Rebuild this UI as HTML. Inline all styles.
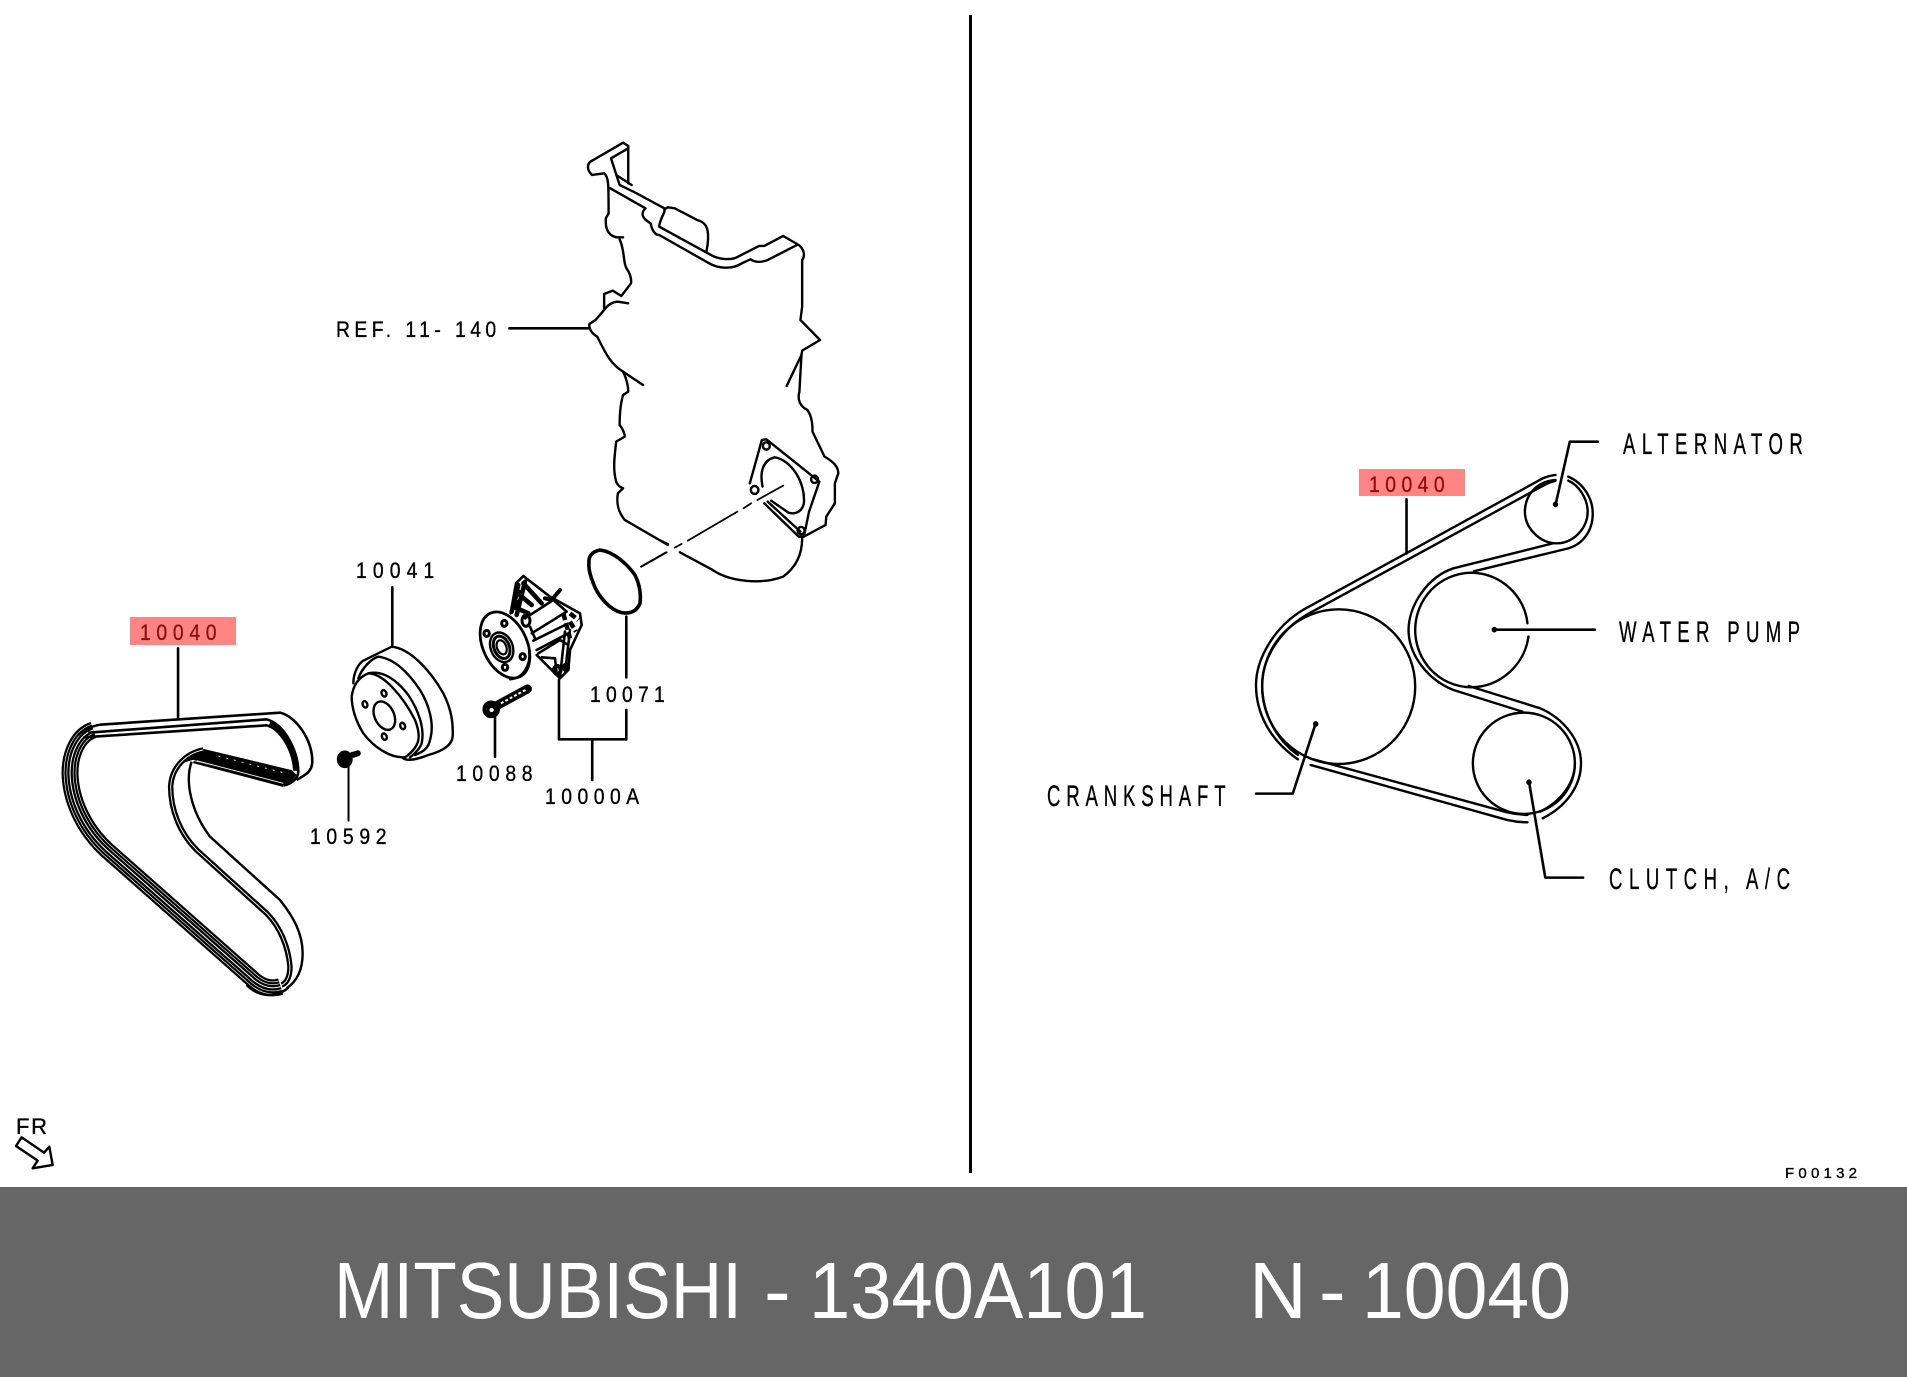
<!DOCTYPE html>
<html><head><meta charset="utf-8"><style>
html,body{margin:0;padding:0;background:#fff}
svg{display:block}
path,ellipse,line,polygon{vector-effect:non-scaling-stroke}
.l{fill:none;stroke:#000;stroke-width:2.4;stroke-linejoin:round;stroke-linecap:round}
.b path{stroke-linecap:butt}
.t{font-family:"Liberation Sans",sans-serif;font-size:22px;fill:#000;stroke:#000;stroke-width:.35}
.c{font-size:30px}
.f{font-family:"Liberation Sans",sans-serif;font-size:80px;fill:#fff}
</style></head><body>
<svg width="1907" height="1377" viewBox="0 0 1907 1377" xmlns="http://www.w3.org/2000/svg">
<rect width="1907" height="1377" fill="#fff"/>
<rect x="969" y="15" width="3" height="1158" fill="#000"/>

<!-- Timing cover -->
<g transform="translate(320,120) scale(.3444,.3333)" class="l">
<path d="M895,78 L880,68 L785,125 C775,135 775,150 790,165 L825,160 C838,170 838,190 838,280 L830,295 C828,325 835,345 860,352 L880,352"/>
<path d="M870,358 C885,390 880,430 890,445 C900,460 905,475 903,490 L875,528 L850,512 L825,522 L825,570 L800,600 L782,612 C780,630 795,645 805,650 C825,690 840,730 880,755 L938,795"/>
<path d="M825,570 C835,555 850,545 865,545 L895,550"/>
<path d="M880,755 C890,775 895,800 895,815 L880,825 C870,860 870,900 870,915 C885,935 885,950 885,950 L860,965 C855,1010 850,1050 860,1085 C865,1100 880,1105 880,1105 L865,1120 C860,1150 865,1175 885,1200 L1010,1275"/>
<path d="M1045,1297 L1140,1350 C1190,1385 1280,1395 1345,1370 C1385,1340 1400,1300 1400,1255"/>
<path d="M895,85 L845,115 L870,195 L910,215 M895,78 V190 M860,165 L905,195"/>
<path d="M843,205 L945,265 C930,280 935,295 960,310 C965,335 975,345 985,345 L1130,430 C1155,445 1195,450 1225,430 L1250,418 C1265,428 1280,428 1300,420 L1385,375"/>
<path d="M910,215 L1000,265 C1005,275 985,300 985,320 L1135,405 C1160,420 1195,420 1210,412 L1275,378 L1290,378 L1345,348 L1390,375 C1408,390 1408,410 1400,420 L1400,560 L1395,600 L1452,660 L1400,692 L1398,705 L1355,798"/>
<path d="M1398,705 L1392,815 C1385,840 1395,860 1415,870 C1430,890 1430,920 1430,935 L1465,1010 C1490,1025 1505,1040 1505,1060 L1495,1090 L1495,1150 L1470,1190 L1468,1215 L1405,1250"/>
<path d="M1122,395 C1125,380 1130,355 1125,330 C1120,310 1110,305 1095,300 L1030,265 L1010,262 L1000,268"/>
<path d="M1283,960 L1296,958 L1450,1085 L1420,1175 L1405,1250 L1390,1250 L1290,1150 M1283,960 L1248,1090 M1300,1145 L1395,1235"/>
<path d="M1285,1100 C1275,1050 1290,1020 1320,1012 C1370,1020 1410,1090 1405,1150 C1400,1175 1380,1185 1360,1178 L1310,1142"/>
<ellipse cx="1296" cy="978" rx="10" ry="11"/><ellipse cx="1436" cy="1078" rx="10" ry="11"/><ellipse cx="1262" cy="1110" rx="11" ry="12"/><ellipse cx="1397" cy="1232" rx="10" ry="11"/>
<path style="stroke-width:1.8" d="M932,1340 L1005,1297 M1030,1283 L1050,1272 M1068,1262 L1212,1175 M1230,1165 L1252,1150 M1270,1140 L1345,1097"/>
<path d="M550,625 H780" style="stroke-width:2.6"/>
</g>

<!-- Multi-rib belt -->
<g transform="translate(50,700) scale(.3333)" class="l b">
<path id="r" d="M130,90 C85,105 60,160 60,220 C62,300 100,385 170,450 L600,830 C630,860 660,870 692,860" style="stroke-width:17"/>
<path d="M130,90 C85,105 60,160 60,220 C62,300 100,385 170,450 L600,830 C630,860 660,870 692,860" style="stroke:#fff;stroke-width:12.5"/>
<path d="M130,90 C85,105 60,160 60,220 C62,300 100,385 170,450 L600,830 C630,860 660,870 692,860" style="stroke-width:11.2"/>
<path d="M130,90 C85,105 60,160 60,220 C62,300 100,385 170,450 L600,830 C630,860 660,870 692,860" style="stroke:#fff;stroke-width:6.8"/>
<path d="M130,90 C85,105 60,160 60,220 C62,300 100,385 170,450 L600,830 C630,860 660,870 692,860" style="stroke-width:5.6"/>
<path d="M130,90 C85,105 60,160 60,220 C62,300 100,385 170,450 L600,830 C630,860 660,870 692,860" style="stroke:#fff;stroke-width:1"/>
<path d="M150,74 L690,38 C740,50 787,120 787,185 C787,215 765,225 740,240" style="stroke-width:2.6"/>
<path d="M115,98 L650,58 C700,70 745,150 745,215 C745,232 730,250 700,257" style="stroke-width:2.6"/>
<path d="M100,112 L650,76 C690,85 730,150 733,212" style="stroke-width:2.6"/>
<path d="M660,68 C700,85 735,150 740,212" style="stroke-width:4.5"/>
<path d="M150,74 C120,80 100,90 85,105" />
<polygon points="460,148 725,212 738,225 722,246 695,256 450,185 430,178 395,188 420,165" fill="#000" stroke="#000" stroke-width="1"/>
<path d="M505,168 L715,222" style="stroke:#fff;stroke-width:.8;stroke-dasharray:2 6"/>
<path d="M440,182 L700,250" style="stroke:#fff;stroke-width:.9"/>
<path d="M430,186 L700,257" style="stroke-width:2.4"/>
<path d="M460,150 C410,160 365,200 362,260 C362,330 390,400 440,450 L650,640 C690,680 715,740 720,800 C720,830 710,850 695,855" style="stroke-width:5.5"/>
<path d="M460,150 C410,160 365,200 362,260 C362,330 390,400 440,450 L650,640 C690,680 715,740 720,800 C720,830 710,850 695,855" style="stroke:#fff;stroke-width:.9"/>
<path d="M425,185 C405,240 420,330 480,410 L690,600 C730,650 758,700 758,760 C758,810 740,845 710,865"/>
<path d="M590,855 C615,880 640,885 665,885 C690,880 710,870 715,862" style="stroke-width:2.6"/>
</g>

<!-- Pulley -->
<g transform="translate(340,640) scale(.3333)" class="l">
<path d="M40,130 C40,100 55,70 70,62 L155,20 C210,25 270,90 310,160 C335,210 340,250 338,290 C335,320 300,335 265,345 C240,355 205,365 190,355"/>
<path d="M55,115 C65,85 95,55 115,50 C160,55 200,90 240,150 C265,190 285,250 270,300 C265,325 250,335 225,345"/>
<path d="M35,170 C40,130 60,110 85,100 C130,100 190,170 225,240 C245,290 240,320 195,352 C150,355 100,320 70,280 C45,240 35,200 35,170Z"/>
<path d="M85,100 C130,90 170,120 205,165 C235,210 255,265 245,310 C240,325 225,340 210,352"/>
<ellipse cx="133" cy="227" rx="29" ry="45" transform="rotate(-25 133 227)"/>
<ellipse cx="75" cy="193" rx="7" ry="10" transform="rotate(-20 75 193)"/>
<ellipse cx="132" cy="160" rx="7" ry="10" transform="rotate(-20 132 160)"/>
<ellipse cx="188" cy="258" rx="7" ry="10" transform="rotate(-20 188 258)"/>
<ellipse cx="133" cy="290" rx="7" ry="10" transform="rotate(-20 133 290)"/>
</g>

<!-- Bolts and leaders (left) -->
<g transform="translate(40,540) scale(.4209,.3333)" class="l">
<path d="M328,325 V535 M837,142 V320 M1393,230 V412 M1393,510 V598 H1233 V420 M1312,598 V720 M1081,520 V650" style="stroke-width:2.6"/>
<path d="M733,675 V842" style="stroke-width:2"/>
<ellipse cx="724" cy="658" rx="16" ry="23" fill="#000" stroke="#000"/>
<path d="M730,650 L755,640" style="stroke-width:6"/>
<path d="M1085,497 L1158,447" style="stroke-width:9"/>
<path d="M1095,490 L1155,449" style="stroke:#fff;stroke-width:2;stroke-dasharray:3 2;stroke-linecap:butt"/>
<ellipse cx="1072" cy="508" rx="18" ry="23" fill="#000"/>
<ellipse cx="1073" cy="510" rx="5" ry="6" fill="#fff" stroke="none"/>
</g>

<!-- Gasket -->
<g transform="translate(440,540) scale(.3333)" class="l">
<path d="M447,70 C445,50 455,35 480,30 C520,35 560,70 585,105 C600,135 603,165 600,190 C590,215 570,222 545,218 C510,210 475,170 460,130 C450,105 445,85 447,70 Z" style="stroke-width:3.6"/>
<path d="M604,80 L680,37 M660,0 L685,12" style="stroke-width:1.8"/>
</g>

<!-- Water pump -->
<g transform="translate(470,570) scale(.3333)" class="l">
<path d="M122,130 L138,40 L160,18 L240,80 L330,130 L335,165 L300,240 L295,300 L270,325 L245,300 L200,255" style="stroke-width:2.6"/>
<path d="M145,45 L125,125 M165,35 L140,135 M160,40 L215,100 M150,75 L185,105 M130,110 L175,130" style="stroke-width:4.5"/>
<path d="M140,65 L130,120 M152,60 L142,120 M300,130 L325,150 M300,155 L318,185 M280,130 L300,205" style="stroke-width:4.5;stroke-dasharray:7 3;stroke-linecap:butt"/>
<path d="M270,60 L245,90 L225,85" style="stroke-width:4"/>
<path d="M165,145 L250,90 L290,125 L185,190 M190,212 L285,165 M200,240 L295,190 M180,170 L195,205 M205,250 L270,210 L295,225 M285,185 L270,320 M300,180 L285,310 M215,262 L255,265 L260,310" style="stroke-width:2.6"/>
<ellipse cx="168" cy="152" rx="12" ry="17" style="stroke-width:3"/>
<ellipse cx="105" cy="225" rx="66" ry="105" transform="rotate(-25 105 225)" fill="#fff" style="stroke-width:2.8"/>
<path d="M178,245 C182,285 160,325 120,328" style="stroke-width:2.4"/>
<ellipse cx="95" cy="232" rx="33" ry="46" transform="rotate(-22 95 232)"/>
<ellipse cx="95" cy="232" rx="23" ry="35" transform="rotate(-22 95 232)" style="stroke-width:3"/>
<ellipse cx="95" cy="232" rx="14" ry="22" transform="rotate(-22 95 232)" style="stroke-width:2.2"/>
<ellipse cx="103" cy="160" rx="8" ry="9" style="stroke-width:3"/><ellipse cx="50" cy="190" rx="8" ry="9" style="stroke-width:3"/><ellipse cx="158" cy="260" rx="8" ry="9" style="stroke-width:3"/><ellipse cx="105" cy="292" rx="8" ry="9" style="stroke-width:3"/>
<ellipse cx="262" cy="300" rx="10" ry="12" style="stroke-width:4"/><ellipse cx="288" cy="292" rx="7" ry="9" style="stroke-width:3.5"/>
</g>

<!-- Right belt schematic -->
<g transform="translate(1030,410) scale(.5102,.3333)" class="l">
<ellipse cx="605" cy="830" rx="150" ry="232"/>
<path d="M975,640 C970,560 925,490 865,488 C800,490 755,570 755,660 C755,750 800,830 865,832 C925,830 970,760 977,680"/>
<ellipse cx="968" cy="1060" rx="100" ry="152"/>
<path d="M1030,210 C990,215 970,260 970,305 C970,355 1000,400 1032,400 C1065,400 1093,355 1093,305 C1093,265 1075,225 1055,212"/>
<path d="M525,1048 C470,990 443,910 443,825 C443,745 480,650 535,600 L1005,205 Q1018,197 1030,195"/>
<path d="M525,1035 C480,985 455,905 455,825 C455,745 490,660 545,612 L1012,222 Q1020,216 1030,212"/>
<path d="M1055,200 C1085,220 1103,265 1103,310 C1103,360 1085,405 1050,417 L870,484"/>
<path d="M1025,400 L830,475 C780,500 742,585 742,660 C742,735 780,810 830,840 L965,905"/>
<path d="M860,828 L1000,895 C1045,925 1080,990 1080,1060 C1080,1130 1050,1190 1005,1225"/>
<path d="M1000,1205 C1040,1175 1068,1120 1068,1060"/>
<path d="M975,1237 Q955,1237 935,1230 L550,1065"/>
<path d="M975,1215 Q955,1214 935,1207 L555,1048"/>
<path d="M738,268 V430 M1113,95 H1058 L1030,285 M1107,659 H910 M1084,1403 H1010 L978,1115 M443,1151 H515 L560,940" style="stroke-width:2.6"/>
<ellipse cx="1030" cy="283" rx="3" ry="5" fill="#000"/><ellipse cx="910" cy="659" rx="3" ry="5" fill="#000"/><ellipse cx="978" cy="1117" rx="3" ry="5" fill="#000"/><ellipse cx="560" cy="942" rx="3" ry="5" fill="#000"/>
</g>

<!-- FR arrow -->
<g transform="translate(0,1090) scale(.3333)" class="l"><polygon points="48,168 65,142 132,188 148,170 158,225 98,235 113,212"/></g>

<!-- Highlight boxes -->
<rect x="130" y="617" width="106" height="28" fill="#ff8585"/>
<rect x="1359" y="469" width="106" height="27" fill="#ff8585"/>

<!-- Labels -->
<text class="t" transform="translate(140,640) scale(.88,1)" textLength="87" style="fill:#8c0f0f;stroke:#8c0f0f">10040</text>
<text class="t" transform="translate(1369,492) scale(.88,1)" textLength="86" style="fill:#8c0f0f;stroke:#8c0f0f">10040</text>
<text class="t" transform="translate(336,337) scale(.88,1)" textLength="182">REF. 11- 140</text>
<text class="t" transform="translate(356,578) scale(.88,1)" textLength="89">10041</text>
<text class="t" transform="translate(590,702) scale(.88,1)" textLength="85">10071</text>
<text class="t" transform="translate(456,781) scale(.88,1)" textLength="87">10088</text>
<text class="t" transform="translate(545,804) scale(.88,1)" textLength="107">10000A</text>
<text class="t" transform="translate(310,844) scale(.88,1)" textLength="87">10592</text>
<text class="t" x="16" y="1134" textLength="31">FR</text>
<text class="t" x="1785" y="1178" textLength="72" style="font-size:15px">F00132</text>
<text class="t c" transform="translate(1623,454) scale(.62,1)" textLength="290">ALTERNATOR</text>
<text class="t c" transform="translate(1619,642) scale(.62,1)" textLength="292">WATER  PUMP</text>
<text class="t c" transform="translate(1609,889) scale(.62,1)" textLength="292">CLUTCH, A/C</text>
<text class="t c" transform="translate(1047,806) scale(.62,1)" textLength="288">CRANKSHAFT</text>

<!-- Footer -->
<rect x="0" y="1187" width="1907" height="190" fill="#666666"/>
<text class="f" x="334" y="1318" textLength="408" lengthAdjust="spacingAndGlyphs">MITSUBISHI</text>
<text class="f" x="764" y="1318">-</text>
<text class="f" x="809" y="1318" textLength="338" lengthAdjust="spacingAndGlyphs">1340A101</text>
<text class="f" x="1249" y="1318">N</text>
<text class="f" x="1319" y="1318">-</text>
<text class="f" x="1362" y="1318" textLength="209" lengthAdjust="spacingAndGlyphs">10040</text>
</svg>
</body></html>
